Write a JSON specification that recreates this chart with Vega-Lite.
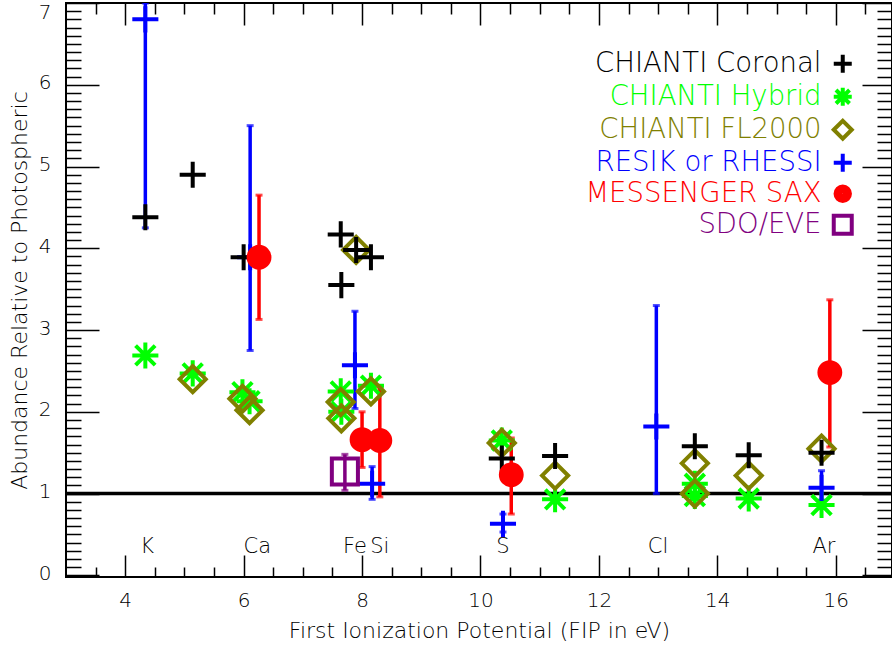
{
  "$schema": "https://vega.github.io/schema/vega-lite/v6.json",
  "width": 826,
  "height": 574,
  "autosize": {"type": "none"},
  "padding": {"left": 66, "top": 3, "right": 0, "bottom": 70},
  "background": "white",
  "config": {
    "font": "DejaVu Sans",
    "view": {"stroke": "black", "strokeWidth": 2},
    "axis": {"grid": false, "domain": false, "tickColor": "black", "tickWidth": 1.5, "labelColor": "black", "titleColor": "black", "titleFontWeight": 200, "labelFontWeight": 200, "labelFontSize": 20, "titleFontSize": 22, "labelOverlap": false, "labelFlush": false}
  },
  "datasets": {
    "pts": [
      {"series": "CHIANTI Hybrid", "fip": 4.34, "val": 2.69},
      {"series": "CHIANTI Hybrid", "fip": 5.14, "val": 2.47},
      {"series": "CHIANTI Hybrid", "fip": 5.98, "val": 2.24},
      {"series": "CHIANTI Hybrid", "fip": 6.1, "val": 2.13},
      {"series": "CHIANTI Hybrid", "fip": 7.64, "val": 2.25},
      {"series": "CHIANTI Hybrid", "fip": 7.65, "val": 2.0},
      {"series": "CHIANTI Hybrid", "fip": 8.15, "val": 2.32},
      {"series": "CHIANTI Hybrid", "fip": 10.36, "val": 1.65},
      {"series": "CHIANTI Hybrid", "fip": 11.26, "val": 0.93},
      {"series": "CHIANTI Hybrid", "fip": 13.62, "val": 1.12},
      {"series": "CHIANTI Hybrid", "fip": 13.62, "val": 0.97},
      {"series": "CHIANTI Hybrid", "fip": 14.53, "val": 0.94},
      {"series": "CHIANTI Hybrid", "fip": 15.76, "val": 0.86},
      {"series": "CHIANTI FL2000", "fip": 5.14, "val": 2.4},
      {"series": "CHIANTI FL2000", "fip": 5.98, "val": 2.16},
      {"series": "CHIANTI FL2000", "fip": 6.1, "val": 2.02},
      {"series": "CHIANTI FL2000", "fip": 7.64, "val": 2.12},
      {"series": "CHIANTI FL2000", "fip": 7.65, "val": 1.92},
      {"series": "CHIANTI FL2000", "fip": 7.9, "val": 3.98},
      {"series": "CHIANTI FL2000", "fip": 8.15, "val": 2.25},
      {"series": "CHIANTI FL2000", "fip": 10.36, "val": 1.62},
      {"series": "CHIANTI FL2000", "fip": 11.26, "val": 1.22},
      {"series": "CHIANTI FL2000", "fip": 13.62, "val": 1.37},
      {"series": "CHIANTI FL2000", "fip": 13.62, "val": 1.0},
      {"series": "CHIANTI FL2000", "fip": 14.53, "val": 1.22},
      {"series": "CHIANTI FL2000", "fip": 15.76, "val": 1.55},
      {"series": "RESIK or RHESSI", "fip": 4.34, "val": 6.8},
      {"series": "RESIK or RHESSI", "fip": 6.11, "val": 3.89},
      {"series": "RESIK or RHESSI", "fip": 7.88, "val": 2.57},
      {"series": "RESIK or RHESSI", "fip": 8.17, "val": 1.12},
      {"series": "RESIK or RHESSI", "fip": 10.38, "val": 0.63},
      {"series": "RESIK or RHESSI", "fip": 12.97, "val": 1.82},
      {"series": "RESIK or RHESSI", "fip": 15.76, "val": 1.07},
      {"series": "CHIANTI Coronal", "fip": 4.34, "val": 4.38},
      {"series": "CHIANTI Coronal", "fip": 5.14, "val": 4.9},
      {"series": "CHIANTI Coronal", "fip": 6.0, "val": 3.89},
      {"series": "CHIANTI Coronal", "fip": 7.64, "val": 4.17},
      {"series": "CHIANTI Coronal", "fip": 7.65, "val": 3.55},
      {"series": "CHIANTI Coronal", "fip": 7.9, "val": 3.98},
      {"series": "CHIANTI Coronal", "fip": 8.15, "val": 3.89},
      {"series": "CHIANTI Coronal", "fip": 10.36, "val": 1.43},
      {"series": "CHIANTI Coronal", "fip": 11.26, "val": 1.46},
      {"series": "CHIANTI Coronal", "fip": 13.62, "val": 1.58},
      {"series": "CHIANTI Coronal", "fip": 14.53, "val": 1.47},
      {"series": "CHIANTI Coronal", "fip": 15.76, "val": 1.5},
      {"series": "MESSENGER SAX", "fip": 6.26, "val": 3.89},
      {"series": "MESSENGER SAX", "fip": 8.0, "val": 1.66},
      {"series": "MESSENGER SAX", "fip": 8.3, "val": 1.65},
      {"series": "MESSENGER SAX", "fip": 10.52, "val": 1.23},
      {"series": "MESSENGER SAX", "fip": 15.9, "val": 2.48},
      {"series": "SDO/EVE", "fip": 7.71, "val": 1.27}
    ],
    "errs": [
      {"series": "RESIK or RHESSI", "fip": 4.34, "lo": 4.25, "hi": 7.0},
      {"series": "RESIK or RHESSI", "fip": 6.11, "lo": 2.75, "hi": 5.5},
      {"series": "RESIK or RHESSI", "fip": 7.88, "lo": 2.04, "hi": 3.23},
      {"series": "RESIK or RHESSI", "fip": 8.17, "lo": 0.93, "hi": 1.33},
      {"series": "RESIK or RHESSI", "fip": 10.38, "lo": 0.53, "hi": 0.75},
      {"series": "RESIK or RHESSI", "fip": 12.97, "lo": 1.0, "hi": 3.3},
      {"series": "RESIK or RHESSI", "fip": 15.76, "lo": 0.92, "hi": 1.28},
      {"series": "MESSENGER SAX", "fip": 6.26, "lo": 3.13, "hi": 4.65},
      {"series": "MESSENGER SAX", "fip": 8.0, "lo": 1.32, "hi": 2.0},
      {"series": "MESSENGER SAX", "fip": 8.3, "lo": 0.96, "hi": 2.3},
      {"series": "MESSENGER SAX", "fip": 10.52, "lo": 0.75, "hi": 1.68},
      {"series": "MESSENGER SAX", "fip": 15.9, "lo": 1.57, "hi": 3.37},
      {"series": "SDO/EVE", "fip": 7.71, "lo": 1.04, "hi": 1.48}
    ],
    "elements": [
      {"el": "K", "lx": 4.37},
      {"el": "Ca", "lx": 6.23},
      {"el": "Fe", "lx": 7.88},
      {"el": "Si", "lx": 8.3},
      {"el": "S", "lx": 10.38},
      {"el": "Cl", "lx": 13.0},
      {"el": "Ar", "lx": 15.8}
    ],
    "one": [{"val": 1}]
  },
  "resolve": {"axis": {"x": "independent", "y": "independent"}},
  "layer": [
    {
      "data": {"name": "one"},
      "mark": {"type": "rule", "strokeWidth": 3.5, "color": "black"},
      "encoding": {
        "y": {"field": "val", "type": "quantitative", "scale": {"domain": [-0.02, 7.0], "nice": false, "zero": false}, "axis": null}
      }
    },
    {
      "data": {"name": "errs"},
      "mark": {"type": "rule", "strokeWidth": 3.5, "clip": true},
      "encoding": {
        "x": {
          "field": "fip", "type": "quantitative",
          "scale": {"domain": [3, 16.95], "nice": false, "zero": false},
          "axis": {
            "orient": "bottom",
            "values": [3.5, 4, 4.5, 5, 5.5, 6, 6.5, 7, 7.5, 8, 8.5, 9, 9.5, 10, 10.5, 11, 11.5, 12, 12.5, 13, 13.5, 14, 14.5, 15, 15.5, 16, 16.5],
            "tickSize": {"condition": {"test": "datum.value % 2 === 0", "value": -22}, "value": -10},
            "labelExpr": "datum.value % 2 === 0 ? format(datum.value, 'd') : ''",
            "labelPadding": 35,
            "title": "First Ionization Potential (FIP in eV)",
            "titlePadding": -2
          }
        },
        "y": {
          "field": "lo", "type": "quantitative",
          "scale": {"domain": [-0.02, 7.0], "nice": false, "zero": false},
          "axis": {
            "orient": "left",
            "values": [0, 0.1, 0.2, 0.3, 0.4, 0.5, 0.6, 0.7, 0.8, 0.9, 1, 1.1, 1.2, 1.3, 1.4, 1.5, 1.6, 1.7, 1.8, 1.9, 2, 2.1, 2.2, 2.3, 2.4, 2.5, 2.6, 2.7, 2.8, 2.9, 3, 3.1, 3.2, 3.3, 3.4, 3.5, 3.6, 3.7, 3.8, 3.9, 4, 4.1, 4.2, 4.3, 4.4, 4.5, 4.6, 4.7, 4.8, 4.9, 5, 5.1, 5.2, 5.3, 5.4, 5.5, 5.6, 5.7, 5.8, 5.9, 6, 6.1, 6.2, 6.3, 6.4, 6.5, 6.6, 6.7, 6.8, 6.9, 7],
            "tickSize": {"condition": {"test": "abs(datum.value - round(datum.value)) < 0.001", "value": -33}, "value": -15},
            "labelExpr": "abs(datum.value - round(datum.value)) < 0.001 ? format(datum.value, 'd') : ''",
            "labelPadding": 48,
            "labelOffset": {"condition": {"test": "datum.value > 6.95", "value": 9}, "value": -2},
            "title": "Abundance Relative to Photospheric",
            "titlePadding": 2
          }
        },
        "y2": {"field": "hi"},
        "color": {"condition": [{"test": "datum.series === 'RESIK or RHESSI'", "value": "#0000ff"}, {"test": "datum.series === 'MESSENGER SAX'", "value": "#ff0000"}], "value": "#800080"}
      }
    },
    {
      "data": {"name": "errs"},
      "mark": {"type": "tick", "orient": "horizontal", "size": 7, "thickness": 3, "clip": true},
      "encoding": {
        "x": {
          "field": "fip", "type": "quantitative",
          "axis": {
            "orient": "top",
            "values": [3.5, 4, 4.5, 5, 5.5, 6, 6.5, 7, 7.5, 8, 8.5, 9, 9.5, 10, 10.5, 11, 11.5, 12, 12.5, 13, 13.5, 14, 14.5, 15, 15.5, 16, 16.5],
            "tickSize": {"condition": {"test": "datum.value % 2 === 0", "value": -22}, "value": -11},
            "labels": false,
            "title": null
          }
        },
        "y": {
          "field": "lo", "type": "quantitative",
          "axis": {
            "orient": "right",
            "values": [0, 0.1, 0.2, 0.3, 0.4, 0.5, 0.6, 0.7, 0.8, 0.9, 1, 1.1, 1.2, 1.3, 1.4, 1.5, 1.6, 1.7, 1.8, 1.9, 2, 2.1, 2.2, 2.3, 2.4, 2.5, 2.6, 2.7, 2.8, 2.9, 3, 3.1, 3.2, 3.3, 3.4, 3.5, 3.6, 3.7, 3.8, 3.9, 4, 4.1, 4.2, 4.3, 4.4, 4.5, 4.6, 4.7, 4.8, 4.9, 5, 5.1, 5.2, 5.3, 5.4, 5.5, 5.6, 5.7, 5.8, 5.9, 6, 6.1, 6.2, 6.3, 6.4, 6.5, 6.6, 6.7, 6.8, 6.9, 7],
            "tickSize": {"condition": {"test": "abs(datum.value - round(datum.value)) < 0.001", "value": -30}, "value": -15},
            "labels": false,
            "title": null
          }
        },
        "color": {"condition": [{"test": "datum.series === 'RESIK or RHESSI'", "value": "#0000ff"}, {"test": "datum.series === 'MESSENGER SAX'", "value": "#ff0000"}], "value": "#800080"}
      }
    },
    {
      "data": {"name": "errs"},
      "mark": {"type": "tick", "orient": "horizontal", "size": 7, "thickness": 3, "clip": true},
      "encoding": {
        "x": {"field": "fip", "type": "quantitative", "axis": null},
        "y": {"field": "hi", "type": "quantitative", "axis": null},
        "color": {"condition": [{"test": "datum.series === 'RESIK or RHESSI'", "value": "#0000ff"}, {"test": "datum.series === 'MESSENGER SAX'", "value": "#ff0000"}], "value": "#800080"}
      }
    },
    {
      "data": {"name": "pts"},
      "mark": {"type": "point", "filled": false, "strokeWidth": 4, "size": 680, "opacity": 1},
      "encoding": {
        "x": {"field": "fip", "type": "quantitative", "axis": null},
        "y": {"field": "val", "type": "quantitative", "axis": null},
        "color": {
          "field": "series", "type": "nominal",
          "scale": {"domain": ["CHIANTI Coronal", "CHIANTI Hybrid", "CHIANTI FL2000", "RESIK or RHESSI", "MESSENGER SAX", "SDO/EVE"], "range": ["#000000", "#00ff00", "#808000", "#0000ff", "#ff0000", "#800080"]},
          "legend": {
            "orient": "none", "legendX": 763, "legendY": 47, "title": null,
            "labelAlign": "right", "labelOffset": -35, "labelFontSize": 27.5, "labelFontWeight": 200, "labelLimit": 500,
            "labelColor": {"expr": "scale('color', datum.value)"},
            "symbolSize": 324, "symbolStrokeWidth": 4, "rowPadding": -2, "padding": 0
          }
        },
        "shape": {
          "field": "series", "type": "nominal",
          "scale": {"domain": ["CHIANTI Coronal", "CHIANTI Hybrid", "CHIANTI FL2000", "RESIK or RHESSI", "MESSENGER SAX", "SDO/EVE"], "range": ["M-1,0H1M0,-1V1", "M-1,0H1M0,-1V1M-0.75,-0.75L0.75,0.75M-0.75,0.75L0.75,-0.75", "diamond", "M-1,0H1M0,-1V1", "M0.8,0A0.8,0.8,0,1,1,-0.8,0A0.8,0.8,0,1,1,0.8,0M0.5,0A0.5,0.5,0,1,1,-0.5,0A0.5,0.5,0,1,1,0.5,0M0.2,0A0.2,0.2,0,1,1,-0.2,0A0.2,0.2,0,1,1,0.2,0", "square"]},
          "legend": {
            "orient": "none", "legendX": 763, "legendY": 47, "title": null,
            "labelAlign": "right", "labelOffset": -35, "labelFontSize": 27.5, "labelFontWeight": 200, "labelLimit": 500,
            "labelColor": {"expr": "scale('color', datum.value)"},
            "symbolSize": 324, "symbolStrokeWidth": 4, "rowPadding": -2, "padding": 0
          }
        },
        "fill": {"condition": {"test": "datum.series === 'MESSENGER SAX'", "value": "#ff0000"}, "value": "transparent"}
      }
    },
    {
      "data": {"name": "elements"},
      "mark": {"type": "text", "fontSize": 21, "fontWeight": 200, "color": "black"},
      "encoding": {
        "x": {"field": "lx", "type": "quantitative", "axis": null},
        "y": {"datum": 0.35, "type": "quantitative", "axis": null},
        "text": {"field": "el"}
      }
    }
  ]
}
